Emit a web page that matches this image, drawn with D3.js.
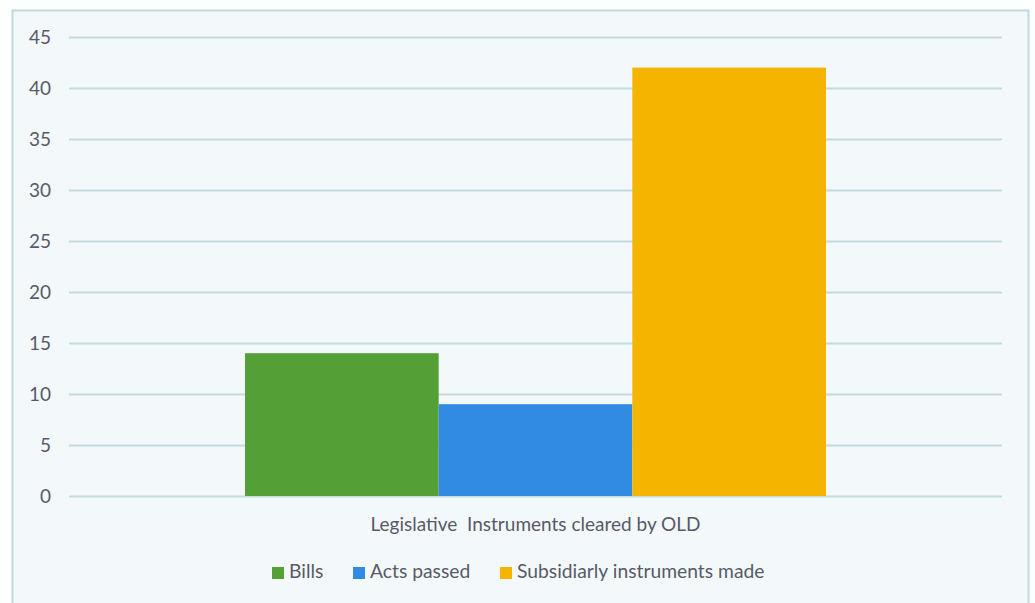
<!DOCTYPE html>
<html>
<head>
<meta charset="utf-8">
<script src="https://cdn.jsdelivr.net/npm/d3@7"></script>
<style>
  html, body { margin: 0; padding: 0; background: #fdfefe; }
  svg { display: block; }
  text { font-family: Lato, "Open Sans", "Liberation Sans", sans-serif; fill: #595968; white-space: pre; }
</style>
</head>
<body>
<svg id="chart" width="1035" height="603"></svg>
<script>
// Legislative instruments cleared by OLD
const category = "Legislative  Instruments cleared by OLD";
const seriesNames = ["Bills", "Acts passed", "Subsidiarly instruments made"];
const seriesValues = [14, 9, 42];
const seriesColors = ["#559f37", "#318be3", "#f5b400"];
const yTicks = [0, 5, 10, 15, 20, 25, 30, 35, 40, 45];

const svg = d3.select("#chart");
const W = 1035, H = 603;
const margin = { left: 69, right: 33, top: 37, bottom: 107 };

// chart area frame
svg.append("rect")
  .attr("x", 12.5).attr("y", 10.5)
  .attr("width", 1016).attr("height", 600)
  .attr("fill", "#f3f9fa")
  .attr("stroke", "#c0d9de").attr("stroke-width", 2);

const x = d3.scaleBand()
  .domain([category])
  .range([margin.left, W - margin.right])
  .paddingInner(0).paddingOuter(0.303);

const xs = d3.scaleBand()
  .domain(seriesNames)
  .range([0, x.bandwidth()]);

const y = d3.scaleLinear()
  .domain([0, 45])
  .range([H - margin.bottom, margin.top]);

// gridlines + tick labels
const yAxis = d3.axisLeft(y)
  .tickValues(yTicks)
  .tickSize(-(W - margin.left - margin.right))
  .tickPadding(18);

const gy = svg.append("g")
  .attr("transform", `translate(${margin.left},0)`)
  .call(yAxis);
gy.select(".domain").remove();
gy.selectAll(".tick line")
  .attr("stroke", "#c3dbe0").attr("stroke-width", 2);
gy.selectAll(".tick text")
  .attr("font-size", 19)
  .style("font-family", "Lato, 'Open Sans', sans-serif")
  .attr("fill", "#595968");

// bars
svg.append("g")
  .selectAll("rect")
  .data(seriesNames.map((n, i) => ({ name: n, value: seriesValues[i], color: seriesColors[i] })))
  .join("rect")
  .attr("x", d => x(category) + xs(d.name))
  .attr("y", d => y(d.value))
  .attr("width", xs.bandwidth())
  .attr("height", d => y(0) - y(d.value))
  .attr("fill", d => d.color);

// category label
svg.append("text")
  .attr("x", x(category) + x.bandwidth() / 2)
  .attr("y", 531)
  .attr("text-anchor", "middle")
  .attr("font-size", 19)
  .text(category);

// legend
const legendX = [272, 353, 500];
const lg = svg.append("g");
seriesNames.forEach((n, i) => {
  lg.append("rect")
    .attr("x", legendX[i]).attr("y", 567)
    .attr("width", 12).attr("height", 12)
    .attr("fill", seriesColors[i]);
  lg.append("text")
    .attr("x", legendX[i] + 17).attr("y", 578)
    .attr("font-size", 19.3)
    .text(n);
});
</script>
</body>
</html>
